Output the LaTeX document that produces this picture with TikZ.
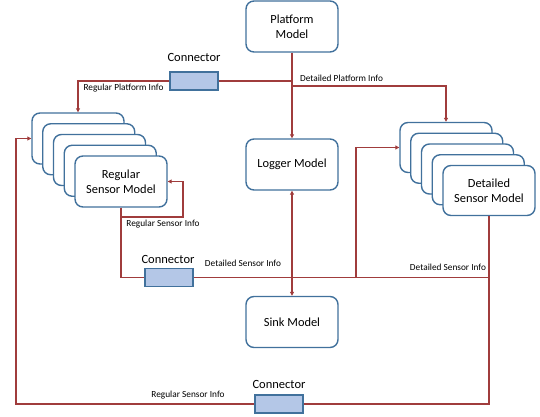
\documentclass[tikz,border=0pt]{standalone}
\usepackage{fontspec}
\setmainfont{Carlito}
\usetikzlibrary{arrows.meta}
\definecolor{boxblue}{HTML}{41719C}
\definecolor{connfill}{HTML}{B4C7E7}
\definecolor{linered}{HTML}{A03C3C}
\tikzset{
  model/.style={draw=boxblue, line width=1.4pt, fill=white, rounded corners=8pt,
    minimum width=92pt, minimum height=51pt, align=center, font=\fontsize{12.4}{14.5}\selectfont, inner sep=0pt},
  conn/.style={draw=boxblue, line width=1.2pt, fill=connfill, minimum width=48pt, minimum height=18pt, inner sep=0pt},
  clabel/.style={font=\fontsize{12.5}{14.5}\selectfont, inner sep=0pt},
  ilabel/.style={font=\fontsize{9.3}{10.5}\selectfont, inner sep=0pt},
  wire/.style={draw=linered, line width=1.1pt},
  arr/.style={wire, -{Triangle[length=4pt,width=4pt]}},
  darr/.style={wire, {Triangle[length=4pt,width=4pt]}-{Triangle[length=4pt,width=4pt]}}
}
\begin{document}
\begin{tikzpicture}[x=1pt,y=-1pt]
\useasboundingbox (0,0) rectangle (540,417);
% main models
\node[model] (plat) at (292,26.5) {Platform\\Model};
\node[model] (logger) at (292,164.5) {Logger Model};
\node[model] (sink) at (292,322) {Sink Model};
% regular sensor stack
\node[model] (r1) at (78,138.5) {};
\node[model] (r2) at (88.75,149.25) {};
\node[model] (r3) at (99.5,160) {};
\node[model] (r4) at (110.25,170.75) {};
\node[model] (r5) at (121,181.5) {Regular\\Sensor Model};
% detailed sensor stack
\node[model, minimum height=50pt] (d1) at (446,147.5) {};
\node[model, minimum height=50pt] (d2) at (456.75,158.25) {};
\node[model, minimum height=50pt] (d3) at (467.5,169) {};
\node[model, minimum height=50pt] (d4) at (478.25,179.75) {};
\node[model, minimum height=50pt] (d5) at (489,190.5) {Detailed\\Sensor Model};
% connectors
\node[conn] (c1) at (194,81) {};
\node[conn] (c2) at (169,277.5) {};
\node[conn] (c3) at (279,404) {};
\node[clabel] (c1l) at (194,57) {Connector};
\node[clabel] (c2l) at (168,259) {Connector};
\node[clabel] (c3l) at (279,384) {Connector};
% junction coordinates
\coordinate (j1) at (292,81);
\coordinate (j2) at (292,86);
\coordinate (j4) at (356,277.5);
\coordinate (rl) at (183,217);
\coordinate (bl) at (16,404);
% wires
\draw[arr] (plat.south) -- (logger.north);
\draw[wire] (c1.east) -- (j1);
\draw[arr] (c1.west) -| (r1.north);
\draw[arr] (j2) -| (d1.north);
\draw[arr] (r5.south) |- (rl) |- (r5.east);
\draw[wire] (r5.south) |- (c2.west);
\draw[wire] (c2.east) -| (d5.south);
\draw[darr] (logger.south) -- (sink.north);
\draw[arr] (j4) |- (d1.west);
\draw[wire] (d5.south) |- (c3.east);
\draw[arr] (c3.west) -- (bl) |- (r1.west);
% labels
\node[ilabel] (l1) at (123.5,88) {Regular Platform Info};
\node[ilabel] (l2) at (341.5,78) {Detailed Platform Info};
\node[ilabel] (l3) at (163,224) {Regular Sensor Info};
\node[ilabel] (l4) at (243,263) {Detailed Sensor Info};
\node[ilabel] (l5) at (448,267) {Detailed Sensor Info};
\node[ilabel] (l6) at (188,395) {Regular Sensor Info};
\end{tikzpicture}
\end{document}
